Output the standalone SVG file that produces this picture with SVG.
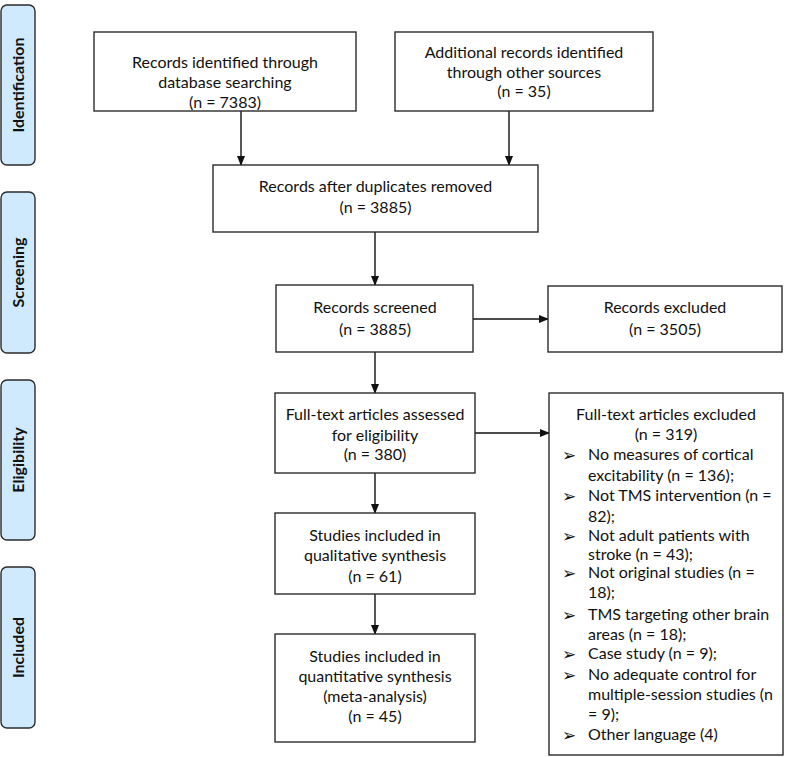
<svg xmlns="http://www.w3.org/2000/svg" width="787" height="757" viewBox="0 0 787 757">
<style>
.box{fill:#fff;stroke:#2b2b2b;stroke-width:1.4}
.side{fill:#cfeafc;stroke:#2b2b2b;stroke-width:1.4}
.t{font-family:Lato,"Liberation Sans",sans-serif;font-size:16px;fill:#111;text-anchor:middle}
.l{font-family:Lato,"Liberation Sans",sans-serif;font-size:16px;fill:#111}
.b{font-family:"DejaVu Sans",sans-serif;font-size:17px;fill:#111}
.s{font-family:Lato,"Open Sans",sans-serif;font-size:16px;font-weight:bold;fill:#111;text-anchor:middle}
.c{stroke:#111;stroke-width:1.4;fill:none;marker-end:url(#ah)}
</style>
<defs>
<marker id="ah" markerWidth="10" markerHeight="10" refX="9" refY="5" orient="auto" markerUnits="userSpaceOnUse">
<path d="M0,1 L10,5 L0,9 Z" fill="#111"/>
</marker>
</defs>
<rect width="787" height="757" fill="#fff"/>
<g id="side-identification"><rect class="side" x="1" y="5" width="34" height="160" rx="6"/><text class="s" transform="translate(24,85) rotate(-90)">Identification</text></g>
<g id="side-screening"><rect class="side" x="1" y="192" width="34" height="161" rx="6"/><text class="s" transform="translate(24,272.5) rotate(-90)">Screening</text></g>
<g id="side-eligibility"><rect class="side" x="1" y="380" width="34" height="160" rx="6"/><text class="s" transform="translate(24,460) rotate(-90)">Eligibility</text></g>
<g id="side-included"><rect class="side" x="1" y="567" width="34" height="161" rx="6"/><text class="s" transform="translate(24,647.5) rotate(-90)">Included</text></g>

<g id="connectors">
<line class="c" x1="241" y1="111" x2="241" y2="165"/>
<line class="c" x1="509" y1="111" x2="509" y2="165"/>
<line class="c" x1="375" y1="232" x2="375" y2="285"/>
<line class="c" x1="473" y1="319" x2="548" y2="319"/>
<line class="c" x1="375" y1="352" x2="375" y2="393"/>
<line class="c" x1="475" y1="433" x2="549" y2="433"/>
<line class="c" x1="375" y1="473" x2="375" y2="513"/>
<line class="c" x1="375" y1="594" x2="375" y2="634"/>
</g>

<g id="n1"><rect class="box" x="94" y="32" width="262" height="79"/>
<text class="t" x="225" y="68">Records identified through</text>
<text class="t" x="225" y="88">database searching</text>
<text class="t" x="225" y="108">(n = 7383)</text></g>

<g id="n2"><rect class="box" x="395" y="32" width="258" height="79"/>
<text class="t" x="524" y="58">Additional records identified</text>
<text class="t" x="524" y="78">through other sources</text>
<text class="t" x="524" y="97">(n = 35)</text></g>

<g id="n3"><rect class="box" x="213" y="165" width="325" height="67"/>
<text class="t" x="375.5" y="192">Records after duplicates removed</text>
<text class="t" x="375.5" y="213">(n = 3885)</text></g>

<g id="n4"><rect class="box" x="276" y="285" width="197" height="67"/>
<text class="t" x="375" y="313">Records screened</text>
<text class="t" x="375" y="335">(n = 3885)</text></g>

<g id="n5"><rect class="box" x="548" y="286" width="234" height="66"/>
<text class="t" x="665" y="313">Records excluded</text>
<text class="t" x="665" y="335">(n = 3505)</text></g>

<g id="n6"><rect class="box" x="275" y="393" width="200" height="80"/>
<text class="t" x="375" y="420">Full-text articles assessed</text>
<text class="t" x="375" y="441">for eligibility</text>
<text class="t" x="375" y="460">(n = 380)</text></g>

<g id="n7"><rect class="box" x="549" y="393" width="234" height="362"/>
<text class="t" x="666" y="420">Full-text articles excluded</text>
<text class="t" x="666" y="440">(n = 319)</text>
<text class="b" x="562" y="461">➢</text><text class="l" x="588" y="460">No measures of cortical</text>
<text class="l" x="588" y="481">excitability (n = 136);</text>
<text class="b" x="562" y="502">➢</text><text class="l" x="588" y="501">Not TMS intervention (n =</text>
<text class="l" x="588" y="522">82);</text>
<text class="b" x="562" y="542">➢</text><text class="l" x="588" y="541">Not adult patients with</text>
<text class="l" x="588" y="560">stroke (n = 43);</text>
<text class="b" x="562" y="579">➢</text><text class="l" x="588" y="578">Not original studies (n =</text>
<text class="l" x="588" y="598">18);</text>
<text class="b" x="562" y="621">➢</text><text class="l" x="588" y="620">TMS targeting other brain</text>
<text class="l" x="588" y="640">areas (n = 18);</text>
<text class="b" x="562" y="660">➢</text><text class="l" x="588" y="659">Case study (n = 9);</text>
<text class="b" x="562" y="681">➢</text><text class="l" x="588" y="680">No adequate control for</text>
<text class="l" x="588" y="700">multiple-session studies (n</text>
<text class="l" x="588" y="720">= 9);</text>
<text class="b" x="562" y="741">➢</text><text class="l" x="588" y="740">Other language (4)</text></g>

<g id="n8"><rect class="box" x="275" y="513" width="200" height="81"/>
<text class="t" x="375" y="541">Studies included in</text>
<text class="t" x="375" y="561">qualitative synthesis</text>
<text class="t" x="375" y="582">(n = 61)</text></g>

<g id="n9"><rect class="box" x="275" y="634" width="200" height="108"/>
<text class="t" x="375" y="662">Studies included in</text>
<text class="t" x="375" y="682">quantitative synthesis</text>
<text class="t" x="375" y="702">(meta-analysis)</text>
<text class="t" x="375" y="722">(n = 45)</text></g>
</svg>
